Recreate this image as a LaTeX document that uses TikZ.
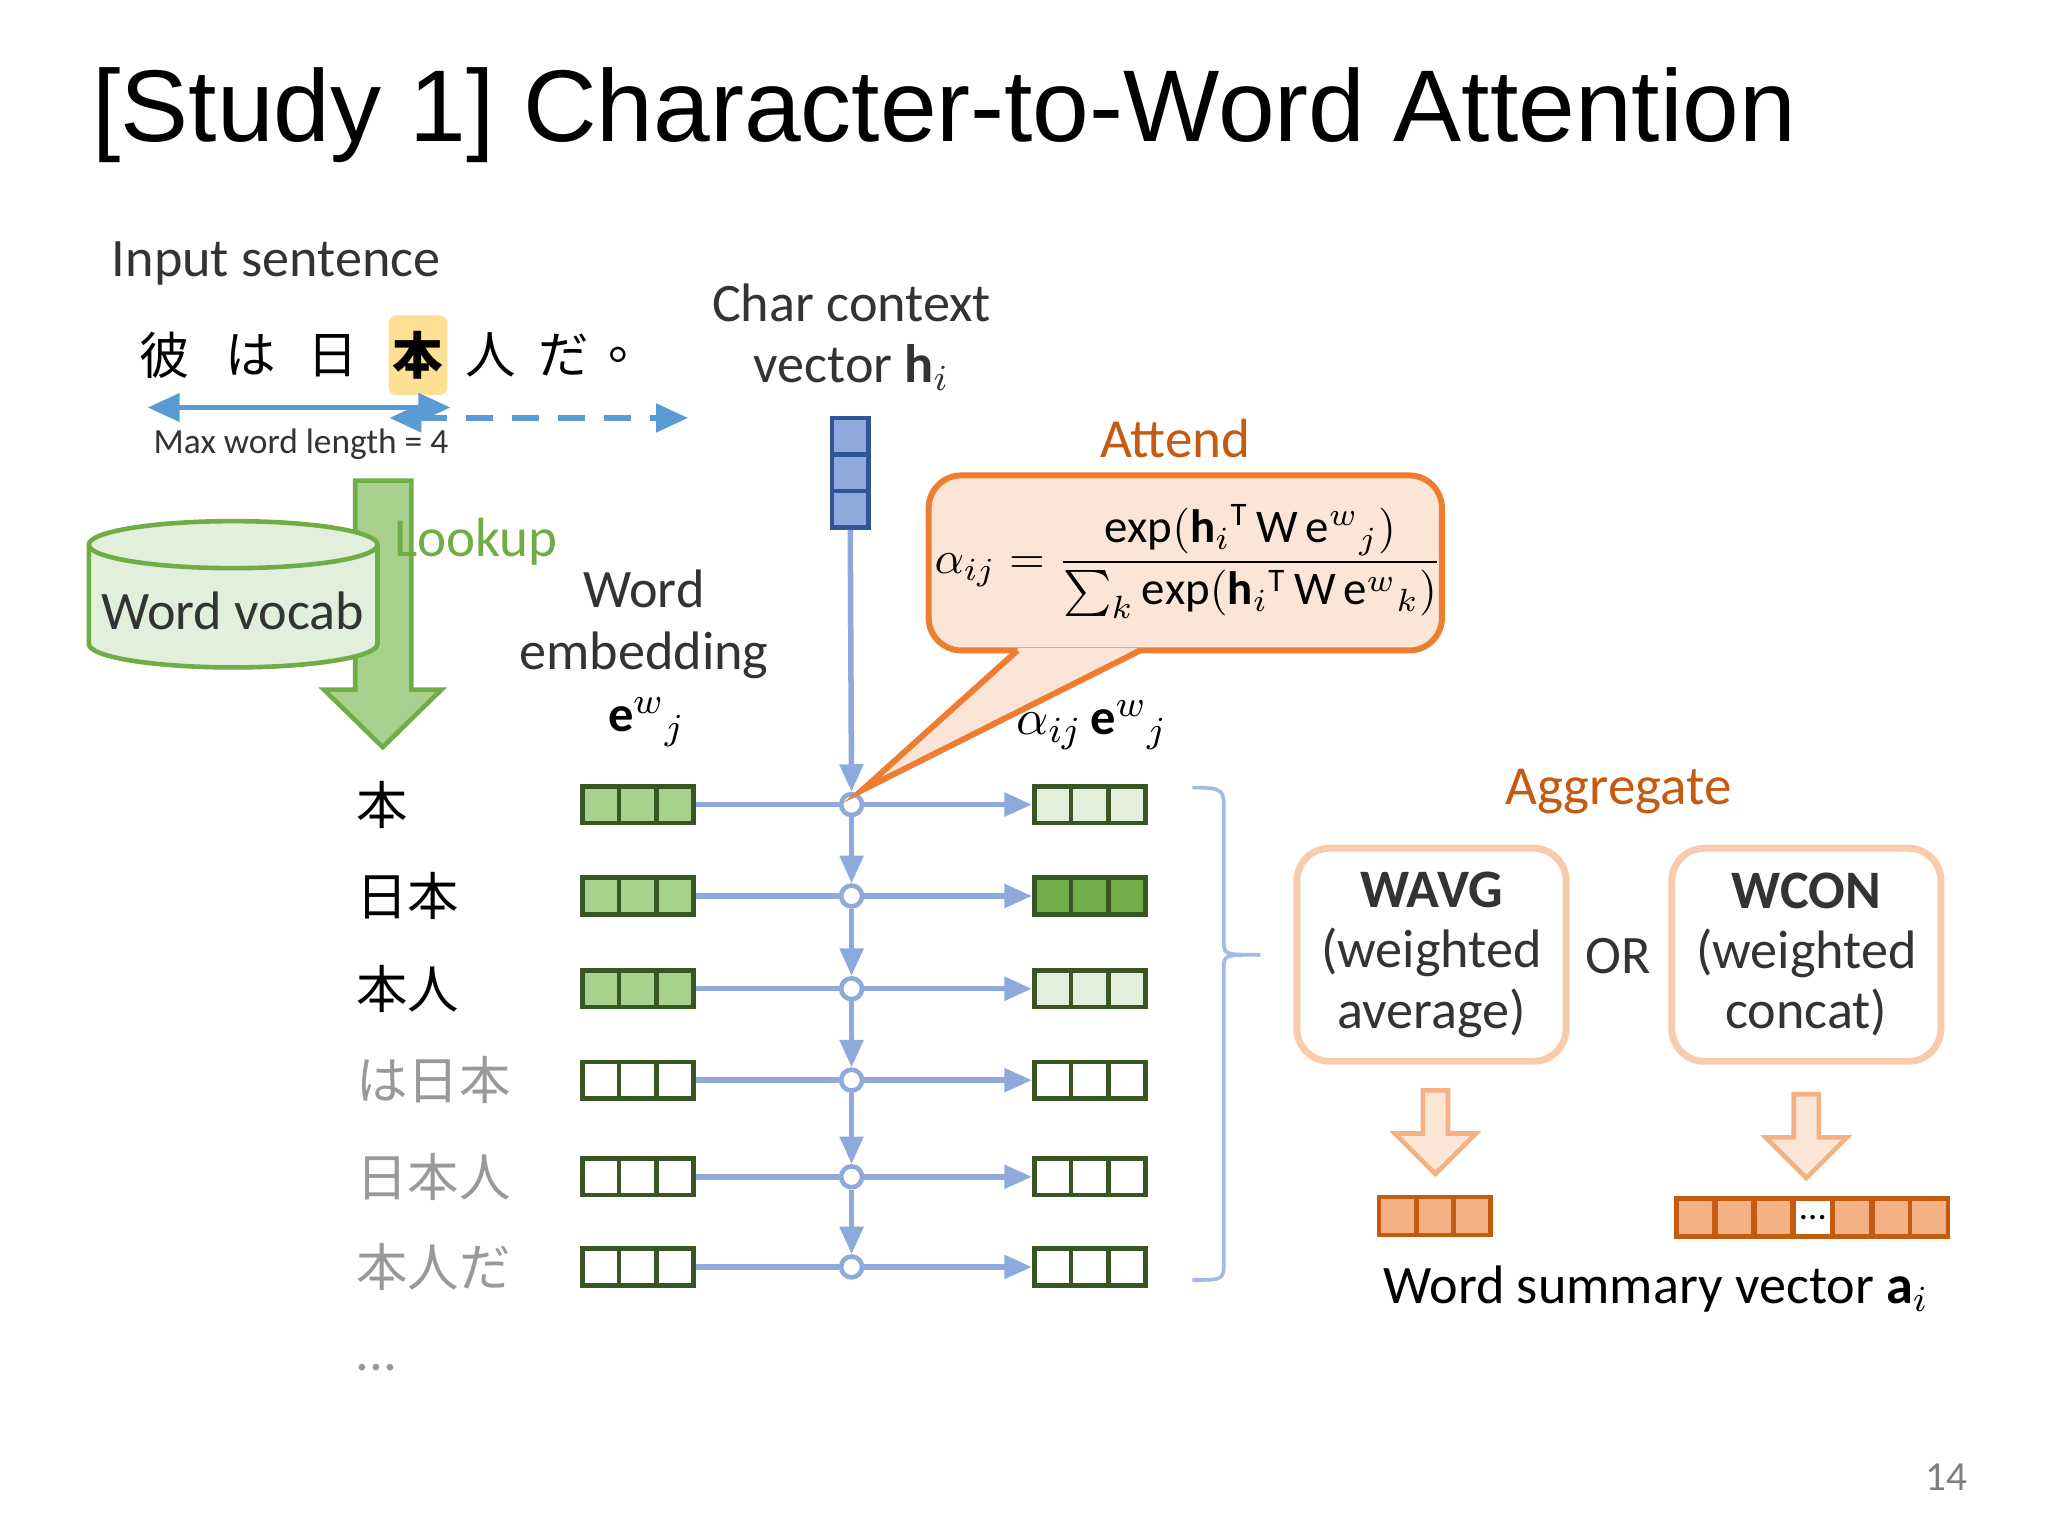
\documentclass[tikz,border=0pt]{standalone}
\usepackage{amsmath}
\usepackage{fontspec}
\setmainfont{Carlito}
\newfontfamily\titlefont{Liberation Sans}
\newfontfamily\jp{Noto Sans CJK JP}
\usetikzlibrary{arrows.meta,shapes.arrows}
\definecolor{bl}{HTML}{5B9BD5}
\definecolor{vl}{HTML}{8EA9DB}
\definecolor{hdark}{HTML}{2F5597}
\definecolor{gfill}{HTML}{A9D18E}
\definecolor{glight}{HTML}{E2EFDA}
\definecolor{gmid}{HTML}{70AD47}
\definecolor{gdark}{HTML}{375623}
\definecolor{ofill}{HTML}{FBE5D6}
\definecolor{oline}{HTML}{ED7D31}
\definecolor{odark}{HTML}{C55A11}
\definecolor{opeach}{HTML}{F4B183}
\definecolor{obox}{HTML}{F8CBAD}
\tikzset{
  txt/.style={font=\fontsize{11.8}{13.3}\selectfont, text=black!80, inner sep=0},
  cell/.style={draw=gdark, line width=1pt, minimum width=0.283cm, minimum height=0.28cm, inner sep=0},
  vcell/.style={draw=odark, line width=1pt, fill=opeach, minimum width=0.29cm, minimum height=0.29cm, inner sep=0},
  hcell/.style={draw=hdark, line width=1pt, fill=vl, minimum width=0.28cm, minimum height=0.28cm, inner sep=0},
  jrow/.style={font=\jp\fontsize{11.2}{13}\selectfont, anchor=west, inner sep=0},
  vline/.style={draw=vl, line width=1.2pt},
  circ/.style={circle, draw=vl, fill=white, line width=1pt, minimum size=0.16cm, inner sep=0},
  aggbox/.style={draw=obox, line width=1.5pt, rounded corners=0.25cm, fill=white, minimum width=2.06cm, minimum height=1.63cm, align=center, font=\fontsize{11.8}{13.1}\selectfont, text=black!80},
  darr/.style={single arrow, shape border rotate=270, draw=opeach, fill=ofill, line width=1pt, minimum height=0.64cm, minimum width=0.62cm, single arrow head extend=0.15cm, inner sep=0.05cm}
}
\begin{document}
\begin{tikzpicture}[x=0.01cm,y=-0.01cm]
\useasboundingbox[fill=white] (0,0) rectangle (1568,1176);
% title
\node[anchor=base west, inner sep=0, font=\titlefont\fontsize{22.2}{26}\selectfont] (title) at (70,108) {[Study 1] Character-to-Word Attention};
\node[txt, anchor=west] (inp) at (85,202) {Input sentence};
% sentence
\node[fill=yellow!45!orange!40, rounded corners=0.06cm, minimum width=0.45cm, minimum height=0.61cm] (hl) at (320,272) {};
\foreach \c/\x [count=\i] in {彼/126,は/192,日/255,人/376,だ/432,。/485}{
  \node[font=\jp\fontsize{11}{13}\selectfont, inner sep=0] (s\i) at (\x,272) {\c};}
\node[font=\jp\bfseries\fontsize{11}{13}\selectfont, inner sep=0] (sh) at (320,272) {本};
\coordinate (a1) at (113,312); \coordinate (a2) at (345,312);
\coordinate (b1) at (298,320); \coordinate (b2) at (527,320);
\draw[bl, line width=1.3pt, {Triangle[width=6pt,length=7pt]}-{Triangle[width=6pt,length=7pt]}] (a1) -- (a2);
\draw[bl, line width=1.3pt, dash pattern=on 6pt off 4pt, {Triangle[width=6pt,length=7pt]}-{Triangle[width=6pt,length=7pt]}] (b1) -- (b2);
\node[anchor=west, inner sep=0, font=\fontsize{7.7}{9}\selectfont, text=black!80] (mwl) at (117,340) {Max word length = 4};
% lookup arrow
\draw[gmid, fill=gfill, line width=1pt] (272,368) -- (315,368) -- (315,528) -- (338,528) -- (293,572) -- (248,528) -- (272,528) -- cycle;
\node[anchor=west, inner sep=0, font=\fontsize{12}{14}\selectfont, text=gmid] (lk) at (301,415) {Lookup};
% cylinder
\draw[gmid, fill=glight, line width=1pt] (68,417) -- (68,493) arc[start angle=180, end angle=360, x radius=110.5, y radius=-18] -- (289,417);
\draw[gmid, fill=glight, line width=1pt] (178.5,417) ellipse[x radius=110.5, y radius=18];
\node[txt] (wv) at (178,468) {Word vocab};
% word embedding label
\node[txt, align=center] (we) at (493,478) {Word\\embedding};
\node[inner sep=0, font=\fontsize{11}{13}\selectfont] (ewj) at (495,553) {$\mathbf{e}^{w}{}_{j}$};
% char context
\node[txt, align=center] (cc) at (652,258) {Char context\\vector $\mathbf{h}_{i}$};
\node[hcell] (h1) at (651,334) {};
\node[hcell] (h2) at (651,362) {};
\node[hcell] (h3) at (651,390) {};
% rows
\foreach \y/\lab/\col/\rf [count=\i] in {616/本/black/glight,686/日本/black/gmid,757/本人/black/glight,827/は日本/black!40/white,901/日本人/black!40/white,970/本人だ/black!40/white}{
  \node[jrow, text=\col] (L\i) at (272,\y) {\lab};
  \ifnum\i<4
    \node[cell, fill=gfill] (e\i a) at (460,\y) {};
    \node[cell, fill=gfill] (e\i b) at (488,\y) {};
    \node[cell, fill=gfill] (e\i c) at (517,\y) {};
  \else
    \node[cell, fill=white] (e\i a) at (460,\y) {};
    \node[cell, fill=white] (e\i b) at (488,\y) {};
    \node[cell, fill=white] (e\i c) at (517,\y) {};
  \fi
  \node[cell, fill=\rf] (r\i a) at (806,\y) {};
  \node[cell, fill=\rf] (r\i b) at (834,\y) {};
  \node[cell, fill=\rf] (r\i c) at (863,\y) {};
  \node[circ] (c\i) at (652,\y) {};
  \draw[vline] (e\i c.east) -- (c\i);
  \draw[vline, -{Triangle[width=5pt,length=6pt]}] (c\i) -- (r\i a.west);
}
\node[inner sep=0, font=\fontsize{12}{14}\selectfont, text=black!40] (dots) at (288,1047) {...};
\draw[vline, -{Triangle[width=5pt,length=6pt]}] (h3.south) -- (c1);
\foreach \i/\j in {1/2,2/3,3/4,4/5,5/6}{\draw[vline, -{Triangle[width=5pt,length=6pt]}] (c\i) -- (c\j);}
% brace
\draw[vl!80, line width=0.8pt] (913,603) .. controls (937,603) and (937,605) .. (937,620) -- (937,720) .. controls (937,731) .. (965,731) .. controls (937,731) .. (937,742) -- (937,965) .. controls (937,980) and (937,980) .. (913,980);
% callout
\draw[oline, fill=ofill, line width=1.3pt, rounded corners=0.25cm] (711,364) rectangle (1104,498);
\fill[ofill] (780,496) -- (660,605) -- (872,496) -- cycle;
\draw[oline, line width=1.3pt] (779,498) -- (660,605) -- (873,498);
\node[inner sep=0, font=\fontsize{12}{14}\selectfont, text=odark] (att) at (900,336) {Attend};
\node[inner sep=0, font=\fontsize{10.2}{12}\selectfont] (form) at (910,430) {$\alpha_{ij} = \dfrac{\mathrm{exp}(\mathbf{h}_{i}{}^{\mathrm{T}}\,\mathrm{W}\,\mathrm{e}^{w}{}_{j})}{\sum_{k}\mathrm{exp}(\mathbf{h}_{i}{}^{\mathrm{T}}\,\mathrm{W}\,\mathrm{e}^{w}{}_{k})}$};
\node[inner sep=0, font=\fontsize{11}{13}\selectfont] (aej) at (836,555) {$\alpha_{ij}\,\mathbf{e}^{w}{}_{j}$};
% aggregate
\node[inner sep=0, font=\fontsize{12}{14}\selectfont, text=odark] (agg) at (1239,606) {Aggregate};
\node[aggbox] (wavg) at (1096,731) {\textbf{WAVG}\\(weighted\\average)};
\node[aggbox] (wcon) at (1383,731) {\textbf{WCON}\\(weighted\\concat)};
\node[txt] (or) at (1239,732) {OR};
\node[darr] (d1) at (1099,862) {};
\node[darr] (d2) at (1383,865) {};
\foreach \x [count=\i] in {1070,1099,1127}{\node[vcell, minimum width=0.285cm] (v\i) at (\x,931) {};}
\foreach \x [count=\i] in {1298,1328,1358,1388,1418,1448,1477}{\node[vcell] (w\i) at (\x,932) {};}
\node[vcell, fill=white, font=\fontsize{8}{8}\selectfont] (wd) at (1388,932) {...};
\node[txt, text=black] (wsv) at (1268,987) {Word summary vector $\mathbf{a}_{i}$};
\node[inner sep=0, font=\fontsize{9}{11}\selectfont, text=black!50] (pg) at (1490,1131) {14};
\end{tikzpicture}
\end{document}
